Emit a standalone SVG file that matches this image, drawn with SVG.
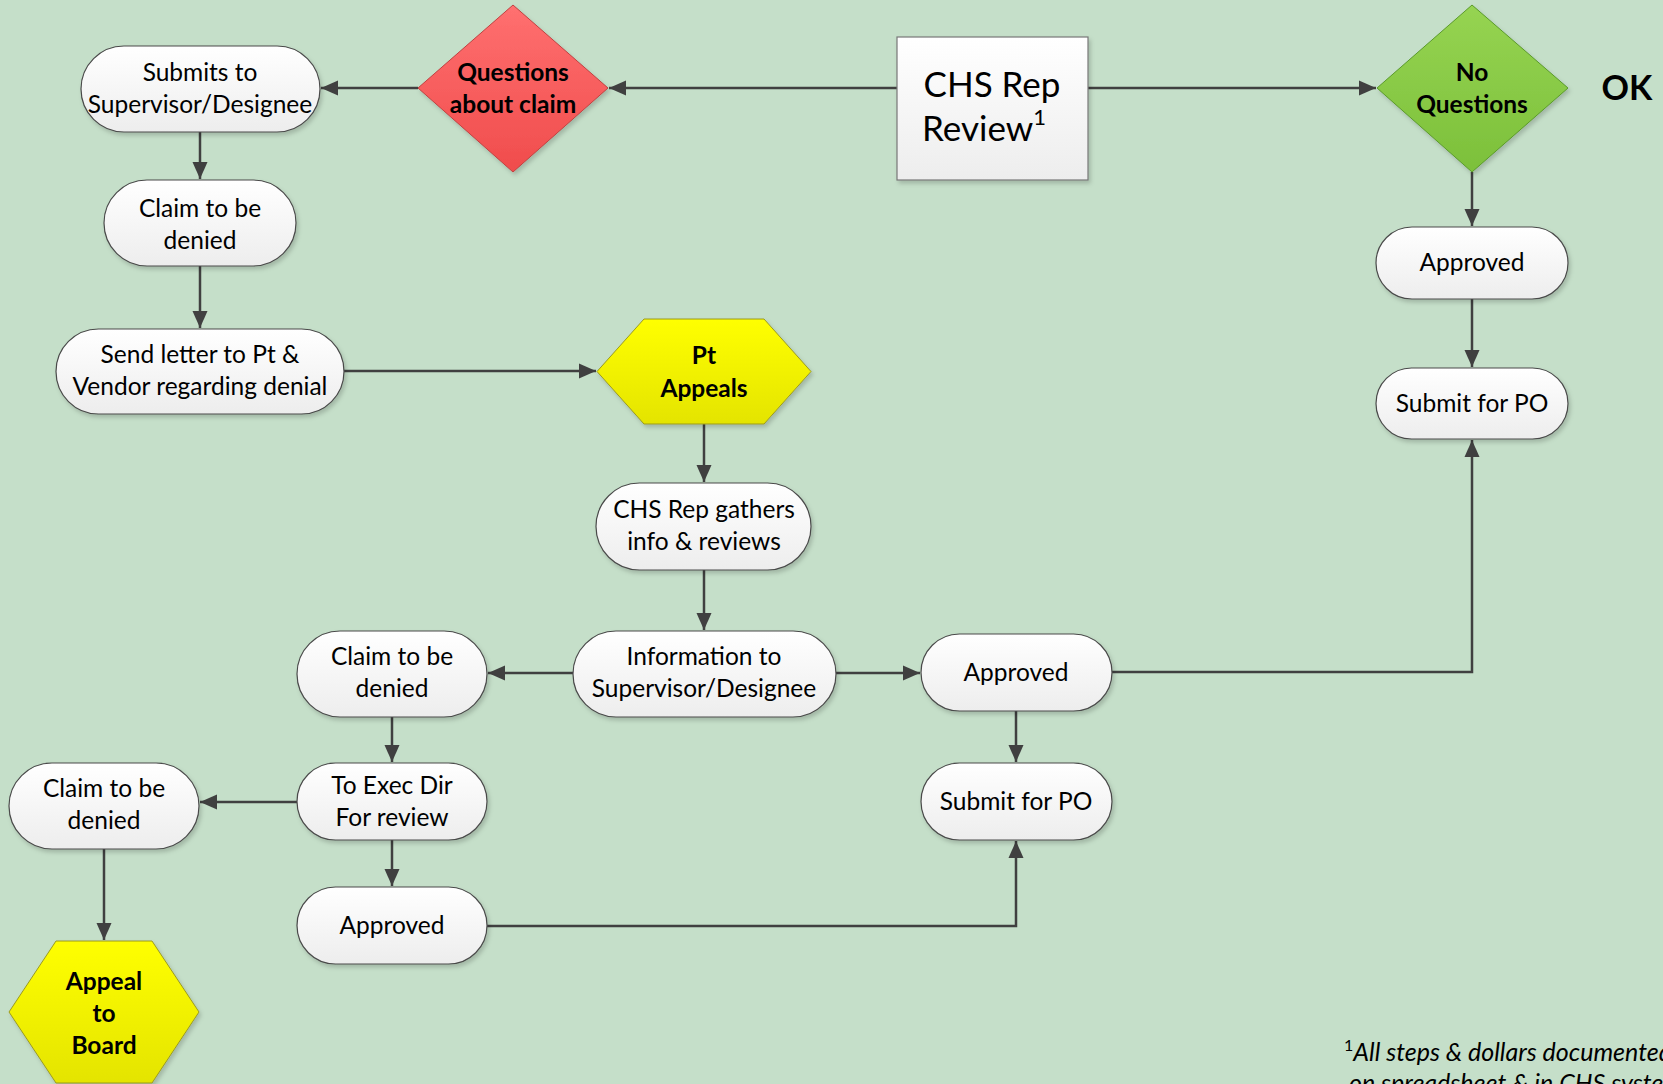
<svg xmlns="http://www.w3.org/2000/svg" width="1663" height="1084" viewBox="0 0 1663 1084">
<defs>
<linearGradient id="gw" x1="0" y1="0" x2="0" y2="1"><stop offset="0" stop-color="#ffffff"/><stop offset="1" stop-color="#ededed"/></linearGradient>
<linearGradient id="gr" x1="0" y1="0" x2="0" y2="1"><stop offset="0" stop-color="#ff7070"/><stop offset="1" stop-color="#f04c4c"/></linearGradient>
<linearGradient id="gg" x1="0" y1="0" x2="0" y2="1"><stop offset="0" stop-color="#96d452"/><stop offset="1" stop-color="#7cc03a"/></linearGradient>
<linearGradient id="gy" x1="0" y1="0" x2="0" y2="1"><stop offset="0" stop-color="#ffff00"/><stop offset="1" stop-color="#e4e400"/></linearGradient>
<filter id="sh" x="-10%" y="-10%" width="125%" height="130%"><feDropShadow dx="2" dy="3" stdDeviation="2" flood-color="#000" flood-opacity="0.18"/></filter>
<marker id="ah" markerUnits="userSpaceOnUse" markerWidth="18" markerHeight="18" viewBox="0 0 18 18" refX="17" refY="9" orient="auto"><path d="M0,1.5 L17,9 L0,16.5 Z" fill="#404040"/></marker>
<style>
.n{fill:url(#gw);stroke:#4a4a4a;stroke-width:1.2;filter:url(#sh)}
.t{font-family:Lato,"Liberation Sans",sans-serif;font-size:24.5px;fill:#000;text-anchor:middle}
.b{font-weight:bold}
.c{fill:none;stroke:#404040;stroke-width:2.5;marker-end:url(#ah)}
</style>
</defs>
<rect width="1663" height="1084" fill="#c5dfc9"/>
<g id="connectors">
<path class="c" d="M897,88 H609"/>
<path class="c" d="M418,88 H321"/>
<path class="c" d="M1088,88 H1376"/>
<path class="c" d="M1472,172 V226"/>
<path class="c" d="M1472,299 V367"/>
<path class="c" d="M200,131 V179"/>
<path class="c" d="M200,266 V328"/>
<path class="c" d="M344,371 H596"/>
<path class="c" d="M704,424 V482"/>
<path class="c" d="M704,570 V630"/>
<path class="c" d="M573,673 H488"/>
<path class="c" d="M836,673 H920"/>
<path class="c" d="M1111,672 H1472 V440"/>
<path class="c" d="M1016,711 V762"/>
<path class="c" d="M392,717 V762"/>
<path class="c" d="M297,802 H200"/>
<path class="c" d="M392,840 V886"/>
<path class="c" d="M104,848 V940"/>
<path class="c" d="M487,926 H1016 V841"/>
</g>
<g id="chs-rep-review">
<rect class="n" x="897" y="37" width="191" height="143" style="stroke:#777"/>
<text class="t" x="992" y="97" style="font-size:35px">CHS Rep</text>
<text class="t" x="984" y="141" style="font-size:35px">Review<tspan style="font-size:22px" dy="-16">1</tspan></text>
</g>
<g id="questions-about-claim">
<polygon points="513,5 608,88 513,172 418,88" fill="url(#gr)" stroke="#c04040" stroke-width="1" filter="url(#sh)"/>
<text class="t b" x="513" y="81">Questions</text>
<text class="t b" x="513" y="113">about claim</text>
</g>
<g id="no-questions">
<polygon points="1472,5 1568,88 1472,172 1377,88" fill="url(#gg)" stroke="#5a9a2a" stroke-width="1" filter="url(#sh)"/>
<text class="t b" x="1472" y="81">No</text>
<text class="t b" x="1472" y="113">Questions</text>
</g>
<g id="ok-label">
<text class="t b" x="1627" y="100" style="font-size:34px">OK</text>
</g>
<g id="submits">
<rect class="n" x="81" y="46" width="239" height="86" rx="43"/>
<text class="t" x="200" y="81">Submits to</text>
<text class="t" x="200" y="113">Supervisor/Designee</text>
</g>
<g id="claim-denied-1">
<rect class="n" x="104" y="180" width="192" height="86" rx="43"/>
<text class="t" x="200" y="217">Claim to be</text>
<text class="t" x="200" y="249">denied</text>
</g>
<g id="send-letter">
<rect class="n" x="56" y="329" width="288" height="85" rx="42.5"/>
<text class="t" x="200" y="363">Send letter to Pt &amp;</text>
<text class="t" x="200" y="395">Vendor regarding denial</text>
</g>
<g id="pt-appeals">
<polygon points="644,319 764,319 811,371.5 764,424 644,424 597,371.5" fill="url(#gy)" stroke="#9a9a20" stroke-width="1" filter="url(#sh)"/>
<text class="t b" x="704" y="364">Pt</text>
<text class="t b" x="704" y="397">Appeals</text>
</g>
<g id="approved-top">
<rect class="n" x="1376" y="227" width="192" height="72" rx="36"/>
<text class="t" x="1472" y="271">Approved</text>
</g>
<g id="submit-po-top">
<rect class="n" x="1376" y="368" width="192" height="71" rx="35.5"/>
<text class="t" x="1472" y="412">Submit for PO</text>
</g>
<g id="chs-gathers">
<rect class="n" x="596" y="483" width="215" height="87" rx="43.5"/>
<text class="t" x="704" y="518">CHS Rep gathers</text>
<text class="t" x="704" y="550">info &amp; reviews</text>
</g>
<g id="information">
<rect class="n" x="573" y="631" width="263" height="86" rx="43"/>
<text class="t" x="704" y="665">Information to</text>
<text class="t" x="704" y="697">Supervisor/Designee</text>
</g>
<g id="claim-denied-2">
<rect class="n" x="297" y="631" width="190" height="86" rx="43"/>
<text class="t" x="392" y="665">Claim to be</text>
<text class="t" x="392" y="697">denied</text>
</g>
<g id="approved-mid">
<rect class="n" x="921" y="634" width="191" height="77" rx="38.5"/>
<text class="t" x="1016" y="681">Approved</text>
</g>
<g id="submit-po-mid">
<rect class="n" x="921" y="763" width="191" height="77" rx="38.5"/>
<text class="t" x="1016" y="810">Submit for PO</text>
</g>
<g id="to-exec-dir">
<rect class="n" x="297" y="763" width="190" height="77" rx="38.5"/>
<text class="t" x="392" y="794">To Exec Dir</text>
<text class="t" x="392" y="826">For review</text>
</g>
<g id="claim-denied-3">
<rect class="n" x="9" y="763" width="190" height="86" rx="43"/>
<text class="t" x="104" y="797">Claim to be</text>
<text class="t" x="104" y="829">denied</text>
</g>
<g id="approved-bottom">
<rect class="n" x="297" y="887" width="190" height="77" rx="38.5"/>
<text class="t" x="392" y="934">Approved</text>
</g>
<g id="appeal-board">
<polygon points="56,941 152,941 199,1012 152,1083 56,1083 9,1012" fill="url(#gy)" stroke="#9a9a20" stroke-width="1" filter="url(#sh)"/>
<text class="t b" x="104" y="990">Appeal</text>
<text class="t b" x="104" y="1022">to</text>
<text class="t b" x="104" y="1054">Board</text>
</g>
<g id="footnote">
<text x="1344" y="1061" style="font-family:Lato,'Liberation Sans',sans-serif;font-size:25px;font-style:italic"><tspan style="font-size:16px;font-style:normal" dy="-10">1</tspan><tspan dy="10">All steps &amp; dollars documented</tspan></text>
<text x="1349" y="1092" style="font-family:Lato,'Liberation Sans',sans-serif;font-size:25px;font-style:italic">on spreadsheet &amp; in CHS system</text>
</g>
</svg>
